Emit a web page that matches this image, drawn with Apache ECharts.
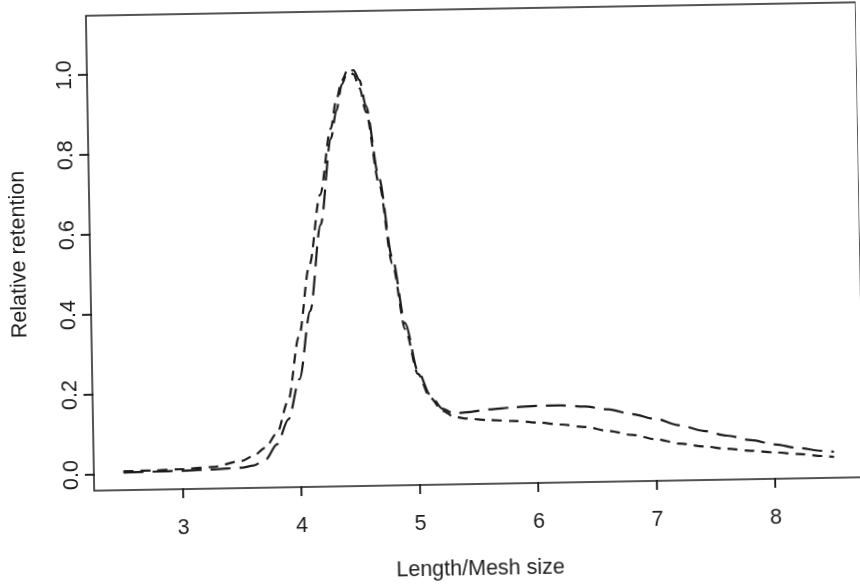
<!DOCTYPE html>
<html>
<head>
<meta charset="utf-8">
<script src="https://cdn.jsdelivr.net/npm/echarts@6/dist/echarts.min.js"></script>
<style>
  html, body { margin: 0; padding: 0; background: #fff; overflow: hidden; }
  #chart {
    width: 860px; height: 585px;
    transform: rotate(-1deg);
    transform-origin: 475px 248px;
  }
</style>
</head>
<body>
<div id="chart"></div>
<script>
// Length / mesh size ratio
const lengthMesh = [2.5, 2.75, 3.0, 3.25, 3.5, 3.6, 3.7, 3.8, 3.9, 4.0, 4.1, 4.2, 4.3, 4.35, 4.4,
  4.45, 4.5, 4.55, 4.6, 4.7, 4.8, 4.9, 5.0, 5.1, 5.2, 5.3, 5.4, 5.6, 5.8, 6.0, 6.2, 6.4, 6.6,
  6.8, 7.0, 7.2, 7.4, 7.6, 7.8, 8.0, 8.2, 8.4, 8.5];

// Relative retention, long-dash curve
const retentionLong = [0.004, 0.005, 0.006, 0.008, 0.011, 0.016, 0.030, 0.068, 0.13, 0.23, 0.40,
  0.615, 0.83, 0.90, 0.965, 0.997, 1.0, 0.975, 0.91, 0.73, 0.53, 0.365, 0.245, 0.185, 0.150,
  0.137, 0.140, 0.146, 0.150, 0.153, 0.153, 0.149, 0.141, 0.128, 0.115, 0.098, 0.083, 0.070,
  0.058, 0.046, 0.036, 0.028, 0.025];

// Relative retention, short-dash curve
const retentionShort = [0.007, 0.008, 0.010, 0.014, 0.028, 0.040, 0.060, 0.095, 0.175, 0.335, 0.515,
  0.69, 0.855, 0.925, 0.975, 1.0, 0.99, 0.955, 0.895, 0.715, 0.515, 0.35, 0.238, 0.178, 0.145,
  0.129, 0.124, 0.119, 0.116, 0.111, 0.105, 0.098, 0.087, 0.076, 0.064, 0.052, 0.044, 0.037,
  0.031, 0.026, 0.021, 0.015, 0.012];

const xTicks = [3, 4, 5, 6, 7, 8];
const yTicks = [0, 0.2, 0.4, 0.6, 0.8, 1.0];

const ink = '#1c1c1c';
const font = '"Liberation Sans", Arial, Helvetica, sans-serif';
const textSize = 21.5;
const X_MIN = 2.25, X_MAX = 8.75;
const Y_MIN = -0.04, Y_MAX = 1.148;
const TICK_LEN = 9;
const TICK_W = 1.6;

// Filled tick bar pointing out of the frame from an anchor pixel
function tickRect(p, vertical) {
  return vertical
    ? { x: p[0] - TICK_LEN, y: p[1] - TICK_W / 2, width: TICK_LEN + 1, height: TICK_W }
    : { x: p[0] - TICK_W / 2, y: p[1] - 1, width: TICK_W, height: TICK_LEN + 1 };
}

// Tick marks as a custom series, placed through the axis scales
function tickSeries(values, vertical) {
  return {
    type: 'custom',
    silent: true,
    clip: false,
    z: 10,
    data: values.map(v => vertical ? [X_MIN, v] : [v, Y_MIN]),
    renderItem: (params, api) => {
      const p = api.coord([api.value(0), api.value(1)]);
      return { type: 'rect', shape: tickRect(p, vertical), style: { fill: ink, stroke: null } };
    }
  };
}

const chart = echarts.init(document.getElementById('chart'), null, { renderer: 'canvas' });

chart.setOption({
  animation: false,
  backgroundColor: '#fff',
  grid: {
    left: 88, top: 9, width: 774, height: 478,
    show: true, borderColor: ink, borderWidth: 1.5, backgroundColor: 'transparent'
  },
  xAxis: {
    type: 'value',
    position: 'bottom',
    min: X_MIN, max: X_MAX,
    name: 'Length/Mesh size',
    nameLocation: 'middle',
    nameGap: 74,
    nameTextStyle: { fontFamily: font, fontSize: textSize, color: ink },
    axisLine: { show: false, onZero: false },
    splitLine: { show: false },
    axisTick: { show: false },
    axisLabel: { customValues: xTicks, margin: 28, fontFamily: font, fontSize: textSize, color: ink,
      formatter: v => String(v) }
  },
  yAxis: {
    type: 'value',
    position: 'left',
    min: Y_MIN, max: Y_MAX,
    name: 'Relative retention',
    nameLocation: 'middle',
    nameRotate: 90,
    nameGap: 60,
    nameTextStyle: { fontFamily: font, fontSize: textSize, color: ink },
    axisLine: { show: false, onZero: false },
    splitLine: { show: false },
    axisTick: { show: false },
    axisLabel: { customValues: yTicks, rotate: 90, margin: 11, fontFamily: font, fontSize: textSize,
      color: ink, formatter: v => v.toFixed(1) }
  },
  series: [
    {
      type: 'line',
      data: lengthMesh.map((x, i) => [x, retentionLong[i]]),
      showSymbol: false,
      smooth: 0.3,
      smoothMonotone: 'x',
      lineStyle: { color: ink, width: 2.2, type: [20, 9] }
    },
    {
      type: 'line',
      data: lengthMesh.map((x, i) => [x, retentionShort[i]]),
      showSymbol: false,
      smooth: 0.3,
      smoothMonotone: 'x',
      lineStyle: { color: ink, width: 2.2, type: [10, 7] }
    },
    tickSeries(xTicks, false),
    tickSeries(yTicks, true)
  ]
});

// Same tick bars as graphic elements, positioned from the axis scales
const tickMarks = [];
xTicks.forEach(v => {
  const p = chart.convertToPixel({ xAxisIndex: 0, yAxisIndex: 0 }, [v, Y_MIN]);
  tickMarks.push({ type: 'rect', silent: true, z: 100, shape: tickRect(p, false),
    style: { fill: ink, stroke: null } });
});
yTicks.forEach(v => {
  const p = chart.convertToPixel({ xAxisIndex: 0, yAxisIndex: 0 }, [X_MIN, v]);
  tickMarks.push({ type: 'rect', silent: true, z: 100, shape: tickRect(p, true),
    style: { fill: ink, stroke: null } });
});
chart.setOption({ graphic: { elements: tickMarks } });
</script>
</body>
</html>
